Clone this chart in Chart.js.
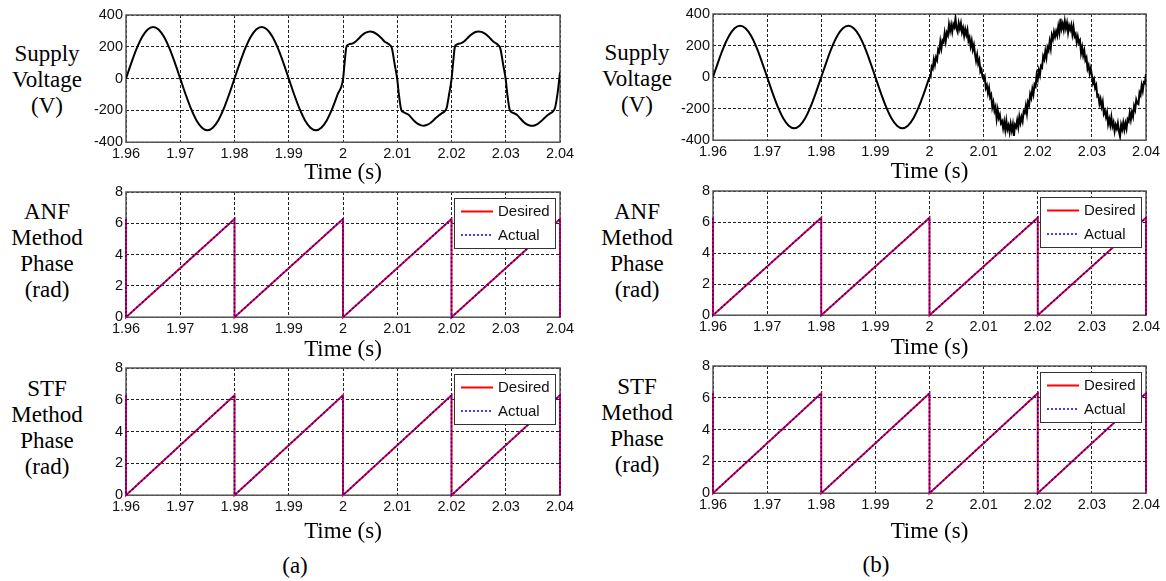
<!DOCTYPE html>
<html><head><meta charset="utf-8">
<script src="https://cdn.jsdelivr.net/npm/chart.js@4.4.0/dist/chart.umd.min.js"></script>
<style>
html,body{margin:0;padding:0;background:#fff;}
#wrap{position:relative;width:1166px;height:581px;overflow:hidden;background:#fff;}
canvas{position:absolute;}
.lbl{position:absolute;transform:translate(-50%,-50%);font-family:'Liberation Serif','Times New Roman',serif;font-size:23px;color:#000;white-space:nowrap;line-height:1;}
</style></head><body><div id="wrap"></div>
<script>
// ---------- data ----------
const xTickValues = [1.96, 1.97, 1.98, 1.99, 2.00, 2.01, 2.02, 2.03, 2.04];
const xTickLabels = ['1.96', '1.97', '1.98', '1.99', '2', '2.01', '2.02', '2.03', '2.04'];
const voltTickValues = [-400, -200, 0, 200, 400];
const voltTickLabels = ['-400', '-200', '0', '200', '400'];
const phaseTickValues = [0, 2, 4, 6, 8];
const phaseTickLabels = ['0', '2', '4', '6', '8'];

// clean supply voltage 1.96 .. 1.999 s, one sample per ms
const sineStart = 1.96, sineStep = 0.001;
const sineVals = [0, 100, 191, 263, 309, 325, 309, 263, 191, 100,
  0, -100, -191, -263, -309, -325, -309, -263, -191, -100,
  0, 100, 191, 263, 309, 325, 309, 263, 191, 100,
  0, -100, -191, -263, -309, -325, -309, -263, -191, -100];

// (a) distorted supply voltage after 2.0 s
const distTimes = [2.0000, 2.0003, 2.0006, 2.0009, 2.0013, 2.0018, 2.0023, 2.0029, 2.0035, 2.0041, 2.0046, 2.0050, 2.0055, 2.0060, 2.0066, 2.0072, 2.0077, 2.0082, 2.0086, 2.0090, 2.0095,
  2.0100, 2.0103, 2.0107, 2.0111, 2.0116, 2.0121, 2.0127, 2.0133, 2.0139, 2.0144, 2.0149, 2.0154, 2.0159, 2.0165, 2.0171, 2.0177, 2.0182, 2.0187, 2.0191, 2.0196,
  2.0200, 2.0203, 2.0206, 2.0209, 2.0213, 2.0218, 2.0223, 2.0229, 2.0235, 2.0241, 2.0246, 2.0250, 2.0255, 2.0260, 2.0266, 2.0272, 2.0277, 2.0282, 2.0286, 2.0290, 2.0295,
  2.0300, 2.0303, 2.0307, 2.0311, 2.0316, 2.0321, 2.0327, 2.0333, 2.0339, 2.0344, 2.0349, 2.0354, 2.0359, 2.0365, 2.0371, 2.0377, 2.0382, 2.0387, 2.0391, 2.0396, 2.0400];
const distVals = [-5, 100, 195, 212, 218, 222, 232, 252, 272, 287, 294, 296, 293, 285, 270, 250, 232, 222, 212, 192, 95,
  -5, -100, -192, -210, -218, -228, -250, -272, -287, -294, -296, -292, -284, -268, -248, -230, -218, -207, -185, -90,
  -5, 100, 196, 213, 219, 223, 233, 253, 273, 288, 295, 297, 294, 286, 271, 251, 233, 222, 211, 190, 93,
  -6, -102, -193, -211, -219, -229, -251, -273, -288, -295, -297, -293, -285, -269, -249, -231, -219, -206, -182, -80, 40];

// (b) noisy supply voltage after 2.0 s, one sample every 0.2 ms
const noisyStart = 2.0, noisyStep = 0.0002;
const noisyVals = [
  12, 2, 66, 53, 111, 78, 125, 108, 175, 162, 226, 182, 233, 222, 278, 228, 282, 265, 334, 292, 331, 287, 334, 317, 372, 307, 286, 342, 307, 341, 285, 312, 262, 303, 268, 299, 230, 251, 195, 231, 175, 204, 147, 104, 142, 86, 109, 35, 49, 0,
  -15, 2, -69, -51, -101, -68, -128, -112, -191, -160, -213, -189, -263, -209, -260, -239, -292, -279, -324, -282, -335, -277, -331, -306, -348, -295, -338, -300, -372, -303, -317, -274, -316, -251, -290, -253, -280, -217, -227, -181, -229, -158, -177, -108, -132, -76, -109, -47, -59, 15,
  -15, 42, 13, 71, 61, 132, 112, 164, 123, 188, 169, 225, 183, 265, 240, 287, 256, 291, 264, 322, 283, 370, 307, 338, 300, 355, 310, 344, 283, 327, 301, 330, 272, 319, 258, 273, 220, 257, 219, 233, 153, 190, 137, 168, 108, 124, 53, 75, 23, 55,
  12, -38, -16, -69, -51, -122, -115, -168, -139, -186, -156, -232, -213, -252, -222, -298, -266, -305, -254, -312, -287, -343, -304, -327, -292, -343, -375, -302, -331, -289, -333, -292, -326, -267, -280, -227, -270, -223, -251, -183, -207, -144, -167, -172, -98, -114, -53, -87, -33, -40,
  20];

// phase (rad) sawtooth corners
const phaseTimes = [1.96, 1.96, 1.98, 1.98, 2.00, 2.00, 2.02, 2.02, 2.04, 2.04];
const desiredPhase = [6.28, 0, 6.28, 0, 6.28, 0, 6.28, 0, 6.28, 0];
const actualPhase = [6.28, 0, 6.28, 0, 6.28, 0, 6.28, 0, 6.28, 0];
const seriesNames = ['Desired', 'Actual'];

// ---------- helpers ----------
const sinePts = sineVals.map((v, i) => ({x: +(sineStart + i * sineStep).toFixed(4), y: v}));
const distPts = distTimes.map((t, i) => ({x: t, y: distVals[i]}));
const noisyPts = noisyVals.map((v, i) => ({x: +(noisyStart + i * noisyStep).toFixed(4), y: v}));
const desPts = phaseTimes.map((t, i) => ({x: t, y: desiredPhase[i]}));
const actPts = phaseTimes.map((t, i) => ({x: t, y: actualPhase[i]}));

Chart.defaults.font.family = "'Liberation Sans', Arial, sans-serif";
Chart.defaults.animation = false;

const framePlugin = {
  id: 'frame',
  beforeDatasetsDraw(chart) {
    const a = chart.chartArea, c = chart.ctx;
    c.save(); c.setLineDash([]); c.strokeStyle = '#555'; c.lineWidth = 1.5;
    c.strokeRect(a.left, a.top, a.right - a.left, a.bottom - a.top);
    c.restore();
  }
};
const boxLegend = {
  id: 'boxLegend',
  afterDatasetsDraw(chart, args, opts) {
    if (!opts || !opts.show) return;
    const a = chart.chartArea, c = chart.ctx;
    const w = 101, h = 50, x = Math.round(a.right - 5 - w), y = Math.round(a.top + 6);
    c.save();
    c.fillStyle = '#fff'; c.fillRect(x, y, w, h);
    c.strokeStyle = '#333'; c.lineWidth = 1; c.setLineDash([]);
    c.strokeRect(x + 0.5, y + 0.5, w, h);
    chart.data.datasets.forEach((ds, i) => {
      const ly = y + 13.5 + i * 23.5;
      c.beginPath(); c.strokeStyle = ds.borderColor; c.lineWidth = ds.borderWidth;
      c.setLineDash(ds.borderDash || []);
      c.moveTo(x + 7, ly); c.lineTo(x + 39, ly); c.stroke();
      c.setLineDash([]);
      c.fillStyle = '#111'; c.font = "15px 'Liberation Sans', Arial"; c.textBaseline = 'middle'; c.textAlign = 'left';
      c.fillText(ds.label, x + 44, ly + 0.5);
    });
    c.restore();
  }
};

const panels = [
  {L: 126, T: 15, W: 434, H: 127, titleY: 173, kind: 'voltA', lines: [['Supply', 47, 53], ['Voltage', 47, 79], ['(V)', 47, 105]]},
  {L: 126, T: 192, W: 434, H: 125, titleY: 350, kind: 'phase', lines: [['ANF', 47, 211], ['Method', 47, 237], ['Phase', 47, 263], ['(rad)', 47, 289]]},
  {L: 126, T: 368, W: 434, H: 127, titleY: 532, kind: 'phase', lines: [['STF', 47, 388], ['Method', 47, 414], ['Phase', 47, 440], ['(rad)', 47, 466]]},
  {L: 713, T: 14, W: 433, H: 126, titleY: 172, kind: 'voltB', lines: [['Supply', 637, 52], ['Voltage', 637, 78], ['(V)', 637, 104]]},
  {L: 713, T: 191, W: 433, H: 124, titleY: 348, kind: 'phase', lines: [['ANF', 637, 211], ['Method', 637, 237], ['Phase', 637, 263], ['(rad)', 637, 289]]},
  {L: 713, T: 366, W: 433, H: 127, titleY: 532, kind: 'phase', lines: [['STF', 637, 386], ['Method', 637, 412], ['Phase', 637, 438], ['(rad)', 637, 464]]}
];

const wrap = document.getElementById('wrap');
function addText(t, x, y) {
  const d = document.createElement('div'); d.className = 'lbl'; d.textContent = t;
  d.style.left = x + 'px'; d.style.top = y + 'px'; wrap.appendChild(d);
}
addText('(a)', 295, 565);
addText('(b)', 876, 564);

panels.forEach(p => {
  p.lines.forEach(l => addText(l[0], l[1], l[2]));
  const padL = 60, padR = 25, padT = 12;
  const xh = p.titleY - (p.T + p.H) + 13.8;
  const cw = p.W + padL + padR, chh = Math.round(padT + p.H + xh);
  const cv = document.createElement('canvas');
  cv.width = cw; cv.height = chh;
  cv.style.width = cw + 'px'; cv.style.height = chh + 'px';
  cv.style.left = (p.L - padL) + 'px'; cv.style.top = (p.T - padT) + 'px';
  wrap.appendChild(cv);

  const isPhase = p.kind === 'phase';
  let datasets;
  if (p.kind === 'voltA') {
    datasets = [{data: sinePts.concat(distPts), borderColor: '#000', borderWidth: 2, pointRadius: 0, cubicInterpolationMode: 'monotone'}];
  } else if (p.kind === 'voltB') {
    datasets = [
      {data: sinePts.concat([{x: 2.0, y: 0}]), borderColor: '#000', borderWidth: 2, pointRadius: 0, cubicInterpolationMode: 'monotone'},
      {data: noisyPts, borderColor: '#000', borderWidth: 2, pointRadius: 0, tension: 0}
    ];
  } else {
    datasets = [
      {label: seriesNames[0], data: desPts, borderColor: '#ff0000', borderWidth: 2, pointRadius: 0, tension: 0, clip: 4, order: 1},
      {label: seriesNames[1], data: actPts, borderColor: '#0000ff', borderWidth: 1.5, borderDash: [2, 2], pointRadius: 0, tension: 0, clip: 4, order: 0}
    ];
  }
  const yVals = isPhase ? phaseTickValues : voltTickValues;
  const yLabs = isPhase ? phaseTickLabels : voltTickLabels;

  new Chart(cv, {
    type: 'line',
    data: {datasets},
    plugins: [framePlugin, boxLegend],
    options: {
      responsive: false, animation: false, events: [],
      layout: {padding: {left: 0, right: padR, top: padT, bottom: 0}},
      plugins: {legend: {display: false}, tooltip: {enabled: false}, boxLegend: {show: isPhase}},
      scales: {
        x: {
          type: 'linear', min: 1.96, max: 2.04,
          afterBuildTicks: s => { s.ticks = xTickValues.map(v => ({value: v})); },
          ticks: {autoSkip: false, maxRotation: 0, padding: 3, color: '#111', font: {size: 14.5}, callback: (v, i) => xTickLabels[i]},
          grid: {color: '#222', lineWidth: 1, drawTicks: false},
          border: {display: false, dash: [3, 2]},
          title: {display: true, text: 'Time (s)', color: '#000', padding: 0, font: {family: "'Liberation Serif', 'Times New Roman', serif", size: 23}},
          afterFit: s => { s.height = xh; s.paddingLeft = 0; s.paddingRight = 0; }
        },
        y: {
          type: 'linear', min: yVals[0], max: yVals[yVals.length - 1],
          afterBuildTicks: s => { s.ticks = yVals.map(v => ({value: v})); },
          ticks: {autoSkip: false, padding: 3, color: '#111', font: {size: 14.5}, callback: (v, i) => yLabs[i]},
          grid: {color: '#222', lineWidth: 1, drawTicks: false},
          border: {display: false, dash: [3, 2]},
          afterFit: s => { s.width = padL; s.paddingTop = 0; s.paddingBottom = 0; }
        }
      }
    }
  });
});
</script></body></html>
